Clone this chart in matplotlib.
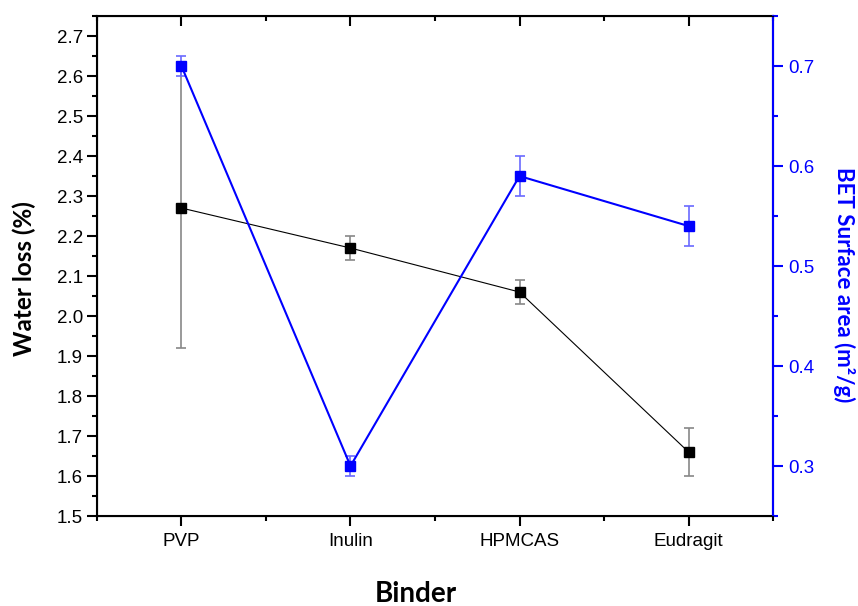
import matplotlib
matplotlib.use("Agg")
import matplotlib.pyplot as plt
from matplotlib.ticker import MultipleLocator, FixedLocator, FormatStrFormatter
from matplotlib.lines import TICKDOWN

plt.rcParams['font.family'] = ['Liberation Sans', 'DejaVu Sans']

binders = ["PVP", "Inulin", "HPMCAS", "Eudragit"]
water_loss = [2.27, 2.17, 2.06, 1.66]
water_err = [0.35, 0.03, 0.03, 0.06]
bet_area = [0.70, 0.30, 0.59, 0.54]
bet_err = [0.01, 0.01, 0.02, 0.02]

fig = plt.figure(figsize=(8.58, 6.06), dpi=100)
ax = fig.add_axes([0.113, 0.1485, 0.788, 0.825])
x = list(range(len(binders)))

ax.errorbar(x, water_loss, yerr=water_err, color='black', lw=0.8, marker='s',
            ms=7, mfc='black', mec='black', ecolor='#888888', elinewidth=1.2,
            capsize=3.6, capthick=1.2, zorder=3)
ax.set_xlim(-0.5, 3.5)
ax.set_ylim(1.5, 2.75)
ax.set_xticks(x)
ax.set_xticklabels(binders)
ax.xaxis.set_minor_locator(FixedLocator([-0.5, 0.5, 1.5, 2.5, 3.5]))
ax.yaxis.set_major_locator(FixedLocator([1.5 + 0.1 * i for i in range(13)]))
ax.yaxis.set_major_formatter(FormatStrFormatter('%.1f'))
ax.yaxis.set_minor_locator(MultipleLocator(0.05))
ax.tick_params(axis='x', which='major', direction='out', length=7.2, width=1.5,
               top=True, labelsize=13.5, pad=5)
ax.tick_params(axis='x', which='minor', direction='out', length=3.6, width=1.5, top=True)
ax.tick_params(axis='y', which='major', direction='out', length=7.2, width=1.5,
               labelsize=13.5, pad=3)
ax.tick_params(axis='y', which='minor', direction='out', length=3.6, width=1.5)
for sp in ax.spines.values():
    sp.set_linewidth(1.5)
ax.set_ylabel("Water loss (%)", fontsize=17.5, fontweight='bold', family='Lato',
              ha='center', va='center')
ax.yaxis.set_label_coords(-0.108, 0.474)
ax.set_xlabel("Binder", fontsize=20, fontweight='bold', family='Lato')
ax.xaxis.set_label_coords(0.472, -0.13)

# top ticks point inward
for t in ax.xaxis.get_major_ticks() + ax.xaxis.get_minor_ticks():
    t.tick2line.set_marker(TICKDOWN)

ax2 = ax.twinx()
ax2.errorbar(x, bet_area, yerr=bet_err, color='blue', lw=1.5, marker='s',
             ms=7, mfc='blue', mec='blue', ecolor='#6a6aff', elinewidth=1.2,
             capsize=3.6, capthick=1.2, zorder=3)
ax2.set_ylim(0.25, 0.75)
ax2.yaxis.set_major_locator(FixedLocator([0.3, 0.4, 0.5, 0.6, 0.7]))
ax2.yaxis.set_major_formatter(FormatStrFormatter('%.1f'))
ax2.yaxis.set_minor_locator(MultipleLocator(0.05))
ax2.tick_params(axis='y', which='major', direction='out', length=7.2, width=1.5,
                labelsize=13.5, colors='blue', pad=4)
ax2.tick_params(axis='y', which='minor', direction='out', length=3.6, width=1.5, colors='blue')
ax2.spines['right'].set_color('blue')
ax2.spines['right'].set_linewidth(1.5)
ax2.set_ylabel("BET Surface area (m²/g)", fontsize=16, fontweight='bold',
               color='blue', rotation=270, family=['Lato', 'DejaVu Sans'],
               ha='center', va='center')
ax2.yaxis.set_label_coords(1.105, 0.462)

fig.savefig("out.png", dpi=100)
